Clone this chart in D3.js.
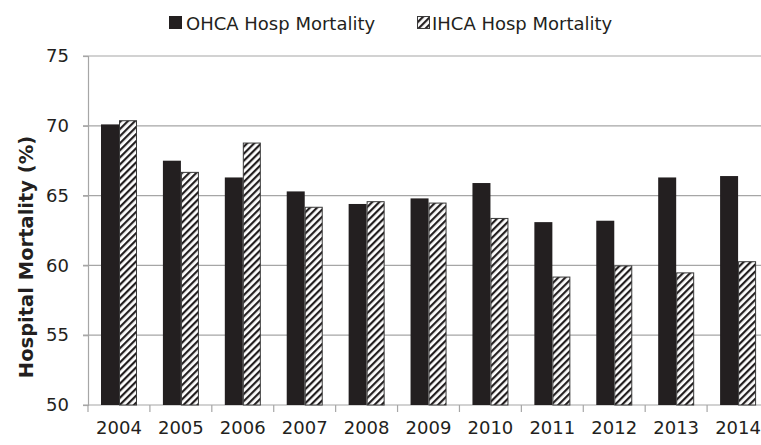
<!DOCTYPE html>
<html>
<head>
<meta charset="utf-8">
<script src="https://cdn.jsdelivr.net/npm/d3@7"></script>
<style>
body { margin: 0; background: #fff; }
svg { display: block; font-family: "DejaVu Sans", Verdana, sans-serif; }
</style>
</head>
<body>
<script>
var years = ["2004","2005","2006","2007","2008","2009","2010","2011","2012","2013","2014"];
var ohca = [70.1, 67.5, 66.3, 65.3, 64.4, 64.8, 65.9, 63.1, 63.2, 66.3, 66.4];
var ihca = [70.4, 66.7, 68.8, 64.2, 64.6, 64.5, 63.4, 59.2, 60.0, 59.5, 60.3];
var yTicks = [50, 55, 60, 65, 70, 75];
var seriesNames = ["OHCA Hosp Mortality", "IHCA Hosp Mortality"];

var W = 761, H = 445;
var plotL = 88, plotR = 769, plotT = 56, plotB = 405;

var svg = d3.select("body").append("svg")
    .attr("width", W)
    .attr("height", H);

var defs = svg.append("defs");
var pat = defs.append("pattern")
    .attr("id", "hatch")
    .attr("patternUnits", "userSpaceOnUse")
    .attr("width", 5)
    .attr("height", 5)
    .attr("patternTransform", "rotate(45)");
pat.append("rect").attr("width", 5).attr("height", 5).attr("fill", "#fff");
pat.append("rect").attr("x", 0).attr("width", 2.2).attr("height", 5).attr("fill", "#231f20");

var x = d3.scaleBand().domain(years).range([plotL, plotR]).paddingInner(0).paddingOuter(0);
var y = d3.scaleLinear().domain([50, 75]).range([plotB, plotT]);

// gridlines
svg.append("g")
    .selectAll("line")
    .data(yTicks.slice(1))
    .enter().append("line")
    .attr("x1", plotL - 5)
    .attr("x2", W)
    .attr("y1", function (d) { return y(d); })
    .attr("y2", function (d) { return y(d); })
    .attr("stroke", "#a6a6a6")
    .attr("stroke-width", 1.2);

// y axis
var yAxis = svg.append("g")
    .attr("transform", "translate(" + plotL + ",0)")
    .call(d3.axisLeft(y).tickValues(yTicks).tickSize(5).tickPadding(14));
yAxis.select(".domain").attr("stroke", "#a6a6a6").attr("stroke-width", 1.2);
yAxis.selectAll(".tick line").attr("stroke", "#a6a6a6").attr("stroke-width", 1.2);
yAxis.selectAll("text").attr("font-size", 18).attr("fill", "#231f20")
    .attr("font-family", "DejaVu Sans");

// x axis
var xAxis = svg.append("g")
    .attr("transform", "translate(0," + plotB + ")")
    .call(d3.axisBottom(x).tickSize(0).tickPadding(16));
xAxis.select(".domain").remove();
xAxis.append("line")
    .attr("x1", plotL - 5).attr("x2", W)
    .attr("stroke", "#a6a6a6").attr("stroke-width", 1.2);
xAxis.selectAll(".bound")
    .data(years)
    .enter().append("line")
    .attr("x1", function (d) { return x(d); })
    .attr("x2", function (d) { return x(d); })
    .attr("y1", 0).attr("y2", 7)
    .attr("stroke", "#a6a6a6").attr("stroke-width", 1.2);
xAxis.selectAll("text").attr("font-size", 18).attr("fill", "#231f20")
    .attr("font-family", "DejaVu Sans");

// bars
var bw = 18, off = 13;
var bars = svg.append("g");
bars.selectAll(".ohca")
    .data(ohca)
    .enter().append("rect")
    .attr("x", function (d, i) { return x(years[i]) + off; })
    .attr("y", function (d) { return y(d); })
    .attr("width", bw)
    .attr("height", function (d) { return plotB - y(d); })
    .attr("fill", "#231f20");
bars.selectAll(".ihca")
    .data(ihca)
    .enter().append("rect")
    .attr("x", function (d, i) { return x(years[i]) + off + bw + 0.5; })
    .attr("y", function (d) { return y(d) + 0.5; })
    .attr("width", bw - 1)
    .attr("height", function (d) { return plotB - y(d) - 0.5; })
    .attr("fill", "url(#hatch)")
    .attr("stroke", "#3a3a3a")
    .attr("stroke-width", 1);

// y label
svg.append("text")
    .attr("transform", "translate(33,257) rotate(-90)")
    .attr("text-anchor", "middle")
    .attr("font-size", 19.5)
    .attr("font-weight", "bold")
    .attr("fill", "#231f20")
    .text("Hospital Mortality (%)");

// legend
var leg = svg.append("g");
leg.append("rect").attr("x", 169).attr("y", 16).attr("width", 13).attr("height", 13).attr("fill", "#231f20");
leg.append("text").attr("x", 186).attr("y", 30).attr("font-size", 18).attr("fill", "#231f20").text(seriesNames[0]);
leg.append("rect").attr("x", 417.5).attr("y", 16.5).attr("width", 12).attr("height", 12)
    .attr("fill", "url(#hatch)").attr("stroke", "#3a3a3a").attr("stroke-width", 1);
leg.append("text").attr("x", 432).attr("y", 30).attr("font-size", 18).attr("fill", "#231f20").text(seriesNames[1]);
</script>
</body>
</html>
